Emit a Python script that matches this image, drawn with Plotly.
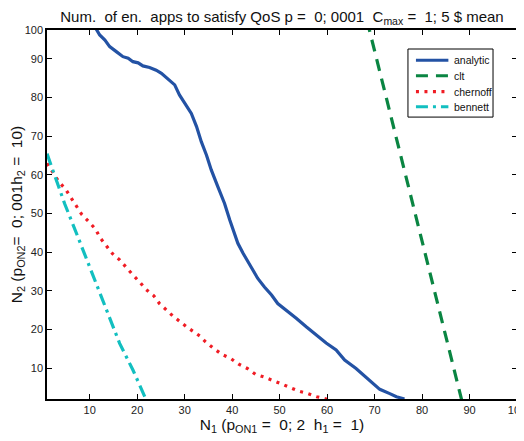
import plotly.graph_objects as go

# ---- data ----
analytic_x = [11.0, 12.1, 13.2, 14.2, 15.6, 17.0, 18.1, 19.1, 20.2, 21.2, 22.6, 24.0, 25.1,
              26.8, 27.9, 28.9, 30.0, 31.4, 32.5, 33.5, 34.6, 35.6, 37.0, 38.4, 39.5, 41.2,
              42.3, 43.7, 45.4, 46.8, 48.3, 49.6, 51.4, 53.5, 55.6, 57.7, 59.8, 61.9, 63.7,
              66.1, 68.6, 71.1, 73.2, 74.6, 76.3]
analytic_y = [98.5, 96.2, 94.9, 93.2, 91.9, 90.6, 90.2, 89.3, 89.0, 88.2, 87.8, 87.1, 86.3,
              84.6, 83.3, 80.7, 78.5, 75.9, 72.5, 68.6, 65.1, 61.3, 56.9, 52.6, 48.3, 42.3,
              39.7, 36.7, 33.2, 31.0, 28.9, 26.7, 25.0, 22.9, 20.7, 18.5, 16.5, 14.7, 12.1,
              9.9, 7.3, 4.5, 3.4, 2.6, 2.0]

clt_x = [68.4, 88.5]
clt_y = [100.0, 1.0]

chernoff_x = [1.0, 2.4, 3.5, 4.9, 6.0, 7.2, 8.3, 9.8, 11.2, 12.2, 13.5, 14.8, 16.3, 17.6,
              19.1, 20.5, 21.8, 23.5, 24.7, 27.5, 30.5, 33.2, 34.4, 36.1, 37.9, 39.7, 41.4,
              43.2, 44.9, 46.7, 48.5, 50.4, 52.3, 54.1, 56.0, 57.8, 59.8, 61.5]
chernoff_y = [63.0, 60.4, 58.2, 56.3, 54.1, 51.9, 49.8, 47.9, 46.0, 43.7, 41.7, 39.6, 38.0,
              36.1, 34.1, 32.3, 30.4, 28.7, 26.7, 23.5, 20.6, 18.3, 16.8, 15.1, 13.5, 12.5,
              11.0, 9.9, 8.4, 7.7, 6.9, 5.9, 4.9, 4.0, 3.4, 2.6, 2.0, 1.5]

bennett_x = [1.0, 4.7, 7.2, 9.6, 11.7, 14.2, 16.3, 19.1, 21.6, 22.0]
bennett_y = [65.5, 52.6, 44.9, 37.5, 30.6, 23.3, 16.4, 9.5, 2.6, 1.5]

series_names = ["analytic", "clt", "chernoff", "bennett"]

x_ticks = [10, 20, 30, 40, 50, 60, 70, 80, 90, 100]
y_tick_vals = [10, 20, 30, 40, 50, 60, 70, 80, 90, 97.5]
y_tick_text = ["10", "20", "30", "40", "50", "60", "70", "80", "90", "100"]

FONT = "Liberation Sans, Arial, sans-serif"
colors = ["#2352a4", "#0a8542", "#f01c24", "#12bfc0"]
dashes = ["solid", "12px,8px", "3px,5.5px", "12px,5px,3px,5px"]
LW = 3.2

fig = go.Figure()
for xs, ys, name, c, d in zip([analytic_x, clt_x, chernoff_x, bennett_x],
                              [analytic_y, clt_y, chernoff_y, bennett_y],
                              series_names, colors, dashes):
    fig.add_trace(go.Scatter(x=xs, y=ys, mode="lines", name=name, showlegend=False,
                             line=dict(color=c, width=LW, dash=d)))

axis_common = dict(showgrid=False, zeroline=False, showline=True, linecolor="black",
                   linewidth=1.5, mirror="ticks", ticks="inside", ticklen=5,
                   tickcolor="black", tickwidth=1, ticklabeloverflow="allow",
                   automargin=False,
                   tickfont=dict(family=FONT, size=11, color="#222"))

fig.update_xaxes(range=[1, 100], tickvals=x_ticks, **axis_common,
                 title=dict(text="N<sub>1</sub> (p<sub>ON1</sub> =  0; 2  h<sub>1</sub> =  1)",
                            font=dict(family=FONT, size=15.5, color="#111"), standoff=3))
fig.update_yaxes(range=[2, 97.5], tickvals=y_tick_vals, ticktext=y_tick_text, **axis_common,
                 title=dict(text="N<sub>2</sub> (p<sub>ON2</sub>=  0; 001h<sub>2</sub> =  10)",
                            font=dict(family=FONT, size=15.5, color="#111"), standoff=8))

# legend box drawn in paper coordinates (plot area spans x 0..1, y 0..1)
lx0, lx1, ly0, ly1 = 0.768, 0.949, 0.764, 0.9485
shapes = [dict(type="rect", xref="paper", yref="paper", x0=lx0, x1=lx1, y0=ly0, y1=ly1,
               line=dict(color="black", width=1), fillcolor="white", layer="above")]
annotations = []
row_y = [0.918, 0.876, 0.833, 0.792]
for name, c, d, ry in zip(series_names, colors, dashes, row_y):
    shapes.append(dict(type="line", xref="paper", yref="paper", x0=0.785, x1=0.854,
                       y0=ry, y1=ry, line=dict(color=c, width=LW, dash=d), layer="above"))
    annotations.append(dict(xref="paper", yref="paper", x=0.862, y=ry, text=name,
                            showarrow=False, xanchor="left", yanchor="middle",
                            font=dict(family=FONT, size=10.5, color="#111")))

fig.update_layout(
    width=516, height=433,
    margin=dict(l=39, r=7, t=22, b=42, autoexpand=False),
    paper_bgcolor="white", plot_bgcolor="white",
    title=dict(text="Num.  of en.  apps to satisfy QoS p =  0; 0001  C<sub>max</sub> =  1; 5 $ mean",
               x=0.5, xref="paper", xanchor="center", y=0.979, yanchor="middle",
               font=dict(family=FONT, size=15, color="#111")),
    shapes=shapes, annotations=annotations,
    showlegend=False,
)

fig.write_html("out.html")
